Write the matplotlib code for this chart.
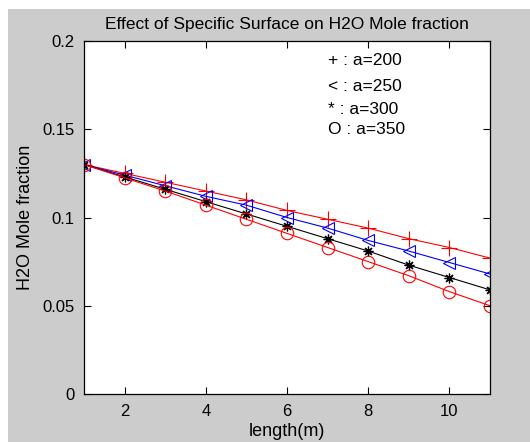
import matplotlib
matplotlib.use("Agg")
import matplotlib.pyplot as plt
from matplotlib.patches import Rectangle

# length along the reactor (m)
length = [1, 2, 3, 4, 5, 6, 7, 8, 9, 10, 11]

# H2O mole fraction for each specific surface a
h2o_a200 = [0.130, 0.125, 0.120, 0.115, 0.110, 0.104, 0.099, 0.094, 0.088, 0.083, 0.077]
h2o_a250 = [0.130, 0.124, 0.118, 0.112, 0.107, 0.100, 0.094, 0.087, 0.081, 0.0745, 0.068]
h2o_a300 = [0.130, 0.123, 0.116, 0.109, 0.102, 0.095, 0.088, 0.081, 0.073, 0.066, 0.059]
h2o_a350 = [0.130, 0.1225, 0.115, 0.107, 0.099, 0.091, 0.083, 0.075, 0.067, 0.058, 0.050]

notes = ["+ : a=200", "< : a=250", "* : a=300", "O : a=350"]
note_y = [0.1887, 0.174, 0.161, 0.150]

yticks = [0, 0.05, 0.1, 0.15, 0.2]
ytick_labels = ["0", "0.05", "0.1", "0.15", "0.2"]
xticks = [2, 4, 6, 8, 10]

plt.rcParams["font.family"] = ["Liberation Sans", "DejaVu Sans"]

W, H = 530, 442
fig = plt.figure(figsize=(W / 100, H / 100), dpi=100, facecolor="white")
# gray matlab-style window area, white strip on top and left
fig.patches.append(Rectangle((8 / W, 0), 1, 1 - 9 / H, transform=fig.transFigure,
                             facecolor="#cccccc", edgecolor="none", zorder=-1))

ax = fig.add_axes([84 / W, 1 - 394 / H, (490 - 84) / W, (394 - 41) / H])
ax.set_facecolor("white")

ax.plot(length, h2o_a200, color="red", lw=0.8, marker="+", ms=11, mew=0.8)
ax.plot(length, h2o_a250, color="blue", lw=0.8, marker="<", ms=9, mew=0.8, mfc="none")
ax.plot(length, h2o_a300, color="black", lw=0.8, marker=(8, 2, 0), ms=7, mew=0.9)
ax.plot(length, h2o_a350, color="red", lw=0.8, marker="o", ms=9, mew=0.8, mfc="none")

for t, y in zip(notes, note_y):
  ax.text(7.0, y, t, fontsize=12.5, va="center", ha="left")

ax.set_xlim(1, 11)
ax.set_ylim(0, 0.2)
ax.set_xticks(xticks)
ax.set_yticks(yticks)
ax.set_yticklabels(ytick_labels)
ax.tick_params(direction="in", top=True, right=True, length=5, width=0.8,
               labelsize=12, pad=7)
for s in ax.spines.values():
  s.set_linewidth(0.9)

ax.set_title("Effect of Specific Surface on H2O Mole fraction", fontsize=12.5, pad=9)
ax.set_xlabel("length(m)", fontsize=13, labelpad=3)
ax.set_ylabel("H2O Mole fraction", fontsize=13, labelpad=6)

fig.savefig("out.png", dpi=100, facecolor=fig.get_facecolor())
